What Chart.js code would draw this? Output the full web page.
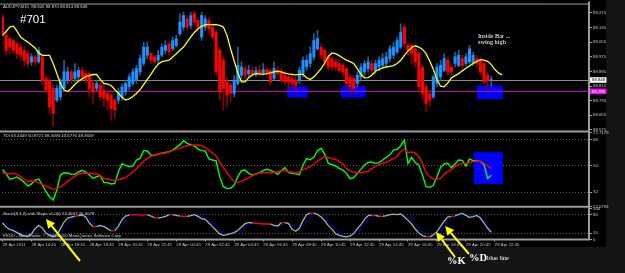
<!DOCTYPE html>
<html>
<head>
<meta charset="utf-8">
<title>AUDJPY M15 #701</title>
<script src="https://cdn.jsdelivr.net/npm/chart.js@4.4.1/dist/chart.umd.min.js"></script>
<style>
  html, body { margin: 0; padding: 0; width: 625px; height: 273px; overflow: hidden; background: #141414; }
  #terminal { position: absolute; left: 0; top: 0; width: 606px; height: 247px; background: #000; }
  canvas { position: absolute; left: 0; }
</style>
</head>
<body>
<div id="terminal"></div>
<canvas id="priceChart" width="625" height="135" style="top:0"></canvas>
<canvas id="tdiChart" width="625" height="83" style="top:128px"></canvas>
<canvas id="stochChart" width="625" height="43" style="top:204px"></canvas>
<canvas id="notes" width="625" height="273" style="top:0"></canvas>
<script>
// time axis: one label every 8 bars (2 hours of M15)
const timeLabels = ['28 Apr 2011', '28 Apr 14:45', '28 Apr 16:45', '28 Apr 18:45', '28 Apr 20:45', '28 Apr 22:45',
    '29 Apr 00:45', '29 Apr 02:45', '29 Apr 04:45', '29 Apr 06:45', '29 Apr 08:45', '29 Apr 10:45',
    '29 Apr 12:45', '29 Apr 14:45', '29 Apr 16:45', '29 Apr 18:45', '29 Apr 20:45', '29 Apr 22:45'];
const timeTickBars = [0, 8, 16, 24, 32, 40, 48, 56, 64, 72, 80, 88, 96, 104, 112, 120, 128, 136];

// AUDJPY M15 candles
const opens = [
    89.191, 89.092, 89.073, 89.064, 89.046, 89.028, 89.010, 88.992, 88.947, 88.974,
    88.947, 88.974, 88.856, 88.847, 88.802, 88.738, 88.756, 88.802, 88.847, 88.892,
    88.856, 88.865, 88.901, 88.883, 88.883, 88.829, 88.802, 88.820, 88.793, 88.774,
    88.765, 88.738, 88.738, 88.756, 88.783, 88.811, 88.829, 88.847, 88.892, 88.938,
    88.983, 88.992, 88.974, 88.956, 88.983, 89.010, 89.046, 89.019, 89.037, 89.101,
    89.137, 89.182, 89.146, 89.209, 89.173, 89.083, 89.137, 89.173, 89.137, 89.110,
    89.010, 88.956, 88.838, 88.820, 88.774, 88.829, 88.874, 88.910, 88.883, 88.901,
    88.879, 88.901, 88.887, 88.905, 88.898, 88.856, 88.901, 88.892, 88.874, 88.865,
    88.856, 88.847, 88.847, 88.883, 88.919, 88.938, 88.974, 89.019, 89.028, 89.010,
    88.974, 88.965, 88.947, 88.938, 88.928, 88.910, 88.865, 88.856, 88.829, 88.865,
    88.892, 88.910, 88.938, 88.901, 88.919, 88.928, 88.938, 88.965, 88.983, 89.001,
    89.028, 89.137, 89.037, 89.037, 89.019, 88.992, 88.919, 88.811, 88.774, 88.756,
    88.829, 88.865, 88.901, 88.956, 88.919, 88.938, 88.928, 88.965, 88.938, 88.947,
    88.938, 88.965, 88.956, 88.938, 88.874, 88.845];
const highs = [
    89.209, 89.110, 89.083, 89.073, 89.055, 89.046, 89.028, 89.010, 88.992, 88.983,
    89.028, 88.983, 88.874, 88.856, 88.820, 88.820, 88.856, 88.956, 88.919, 88.901,
    88.938, 88.919, 88.919, 88.901, 88.892, 88.847, 88.847, 88.838, 88.829, 88.793,
    88.774, 88.747, 88.802, 88.829, 88.847, 88.883, 88.910, 88.928, 88.983, 89.055,
    89.055, 89.001, 88.983, 89.010, 89.046, 89.064, 89.055, 89.083, 89.092, 89.209,
    89.218, 89.200, 89.218, 89.228, 89.191, 89.218, 89.200, 89.191, 89.155, 89.119,
    89.028, 88.974, 88.865, 88.838, 88.874, 89.028, 88.947, 88.928, 88.928, 88.919,
    88.919, 88.928, 88.938, 88.919, 88.910, 88.947, 88.919, 88.910, 88.892, 88.883,
    88.874, 88.865, 88.919, 88.974, 88.983, 89.028, 89.101, 89.119, 89.046, 89.019,
    88.983, 88.974, 88.965, 88.956, 88.938, 88.919, 88.883, 88.874, 88.892, 88.938,
    88.956, 88.974, 88.956, 88.956, 88.974, 88.992, 89.001, 89.037, 89.055, 89.083,
    89.155, 89.155, 89.046, 89.046, 89.028, 89.001, 88.928, 88.829, 88.793, 88.874,
    88.938, 88.956, 88.992, 88.974, 88.938, 89.001, 89.010, 88.983, 88.992, 89.037,
    89.001, 88.983, 88.974, 88.947, 88.890, 88.870];
const lows = [
    89.083, 88.983, 88.992, 88.992, 88.965, 88.956, 88.928, 88.919, 88.928, 88.928,
    88.938, 88.820, 88.774, 88.666, 88.593, 88.729, 88.738, 88.793, 88.829, 88.829,
    88.838, 88.847, 88.847, 88.829, 88.756, 88.720, 88.783, 88.738, 88.702, 88.684,
    88.629, 88.638, 88.720, 88.738, 88.765, 88.793, 88.820, 88.829, 88.874, 88.928,
    88.965, 88.938, 88.938, 88.938, 88.974, 88.992, 88.983, 89.010, 89.028, 89.092,
    89.119, 89.119, 89.128, 89.146, 89.110, 89.064, 89.119, 89.101, 89.073, 88.874,
    88.738, 88.684, 88.702, 88.729, 88.756, 88.820, 88.856, 88.856, 88.865, 88.868,
    88.865, 88.868, 88.874, 88.874, 88.820, 88.847, 88.865, 88.838, 88.820, 88.802,
    88.802, 88.793, 88.829, 88.865, 88.901, 88.919, 88.956, 89.010, 88.965, 88.928,
    88.901, 88.901, 88.901, 88.892, 88.865, 88.811, 88.774, 88.774, 88.811, 88.847,
    88.874, 88.892, 88.883, 88.883, 88.901, 88.910, 88.919, 88.947, 88.965, 88.992,
    89.019, 89.028, 88.983, 88.938, 88.919, 88.793, 88.738, 88.675, 88.702, 88.747,
    88.811, 88.847, 88.892, 88.874, 88.874, 88.919, 88.919, 88.910, 88.928, 88.938,
    88.928, 88.919, 88.874, 88.829, 88.793, 88.814];
const closes = [
    89.101, 89.010, 89.028, 89.010, 88.992, 88.983, 88.956, 88.938, 88.974, 88.947,
    89.010, 88.847, 88.793, 88.702, 88.666, 88.802, 88.838, 88.892, 88.892, 88.847,
    88.892, 88.901, 88.865, 88.847, 88.802, 88.783, 88.829, 88.756, 88.747, 88.738,
    88.693, 88.684, 88.783, 88.811, 88.829, 88.865, 88.892, 88.910, 88.965, 89.028,
    89.028, 88.956, 88.947, 88.983, 89.028, 89.037, 89.001, 89.064, 89.073, 89.164,
    89.200, 89.137, 89.200, 89.164, 89.137, 89.200, 89.182, 89.128, 89.083, 88.892,
    88.783, 88.802, 88.765, 88.774, 88.847, 88.928, 88.919, 88.874, 88.901, 88.879,
    88.898, 88.883, 88.905, 88.890, 88.838, 88.910, 88.883, 88.847, 88.838, 88.838,
    88.829, 88.820, 88.901, 88.956, 88.956, 88.992, 89.064, 89.073, 88.983, 88.947,
    88.919, 88.919, 88.919, 88.901, 88.892, 88.829, 88.811, 88.802, 88.874, 88.919,
    88.938, 88.947, 88.901, 88.938, 88.956, 88.965, 88.974, 89.019, 89.028, 89.064,
    89.110, 89.046, 89.010, 88.992, 88.947, 88.811, 88.774, 88.720, 88.738, 88.865,
    88.919, 88.928, 88.965, 88.892, 88.892, 88.974, 88.983, 88.928, 88.974, 89.019,
    88.983, 88.938, 88.892, 88.838, 88.843, 88.848];

// yellow moving average (shifted forward, runs past the last candle)
const maLine = [
    89.092, 89.113, 89.137, 89.142, 89.115, 89.083, 89.068, 89.055, 89.039, 89.023,
    88.996, 88.983, 88.983, 88.983, 88.938, 88.883, 88.829, 88.793, 88.785, 88.802,
    88.825, 88.841, 88.854, 88.867, 88.872, 88.878, 88.878, 88.851, 88.829, 88.825,
    88.818, 88.796, 88.776, 88.753, 88.738, 88.745, 88.758, 88.774, 88.796, 88.823,
    88.851, 88.879, 88.910, 88.934, 88.948, 88.952, 88.956, 88.974, 88.992, 89.010,
    89.028, 89.055, 89.083, 89.108, 89.128, 89.141, 89.151, 89.151, 89.151, 89.150,
    89.146, 89.137, 89.092, 89.019, 88.952, 88.887, 88.838, 88.838, 88.861, 88.876,
    88.883, 88.881, 88.879, 88.883, 88.887, 88.892, 88.896, 88.892, 88.885, 88.881,
    88.879, 88.876, 88.879, 88.879, 88.860, 88.851, 88.865, 88.887, 88.910, 88.941,
    88.977, 88.996, 88.992, 88.981, 88.968, 88.957, 88.948, 88.938, 88.910, 88.879,
    88.860, 88.861, 88.874, 88.896, 88.905, 88.914, 88.919, 88.923, 88.927, 88.938,
    88.956, 88.983, 89.006, 89.026, 89.035, 89.028, 89.015, 88.992, 88.952, 88.907,
    88.851, 88.814, 88.811, 88.832, 88.860, 88.872, 88.883, 88.898, 88.912, 88.925,
    88.938, 88.950, 88.959, 88.957, 88.950, 88.932, 88.905, 88.887, 88.876];

const priceTicks = [89.215, 89.135, 89.055, 88.975, 88.895, 88.815, 88.735, 88.655, 88.575];
const bidPrice = 88.848;
const levelPrice = 88.786;
// blue boxes: [fromBar, toBar, low, high]
const priceBoxes = [[78.6, 84.3, 88.753, 88.814], [93.5, 100.3, 88.753, 88.814], [131.1, 138.2, 88.744, 88.818]];

// TDI: green price line, red signal line
const tdiPrice = [
    47.7, 44.7, 40.9, 41.5, 42.5, 40.9, 38.8, 36.3, 37.7, 40.4,
    41.1, 37.0, 32.4, 29.0, 26.7, 33.6, 43.8, 45.4, 45.2, 44.3,
    44.3, 45.9, 47.0, 45.9, 43.8, 41.5, 42.7, 43.4, 38.6, 38.6,
    37.7, 38.1, 46.1, 51.4, 50.4, 49.5, 50.0, 54.1, 55.2, 60.5,
    60.3, 57.5, 57.1, 58.2, 58.7, 59.3, 59.8, 60.9, 62.8, 64.4,
    67.3, 65.5, 64.4, 63.7, 61.6, 60.5, 60.3, 54.8, 54.1, 53.6,
    42.7, 35.8, 34.7, 34.7, 37.0, 42.7, 46.8, 47.2, 45.0, 43.8,
    44.5, 45.4, 46.8, 47.7, 47.0, 45.9, 44.3, 46.8, 48.9, 45.4,
    45.0, 44.7, 44.0, 50.7, 55.0, 54.3, 55.9, 60.5, 62.1, 58.2,
    51.8, 50.9, 50.0, 48.4, 47.2, 45.0, 41.3, 42.0, 45.0, 47.7,
    50.7, 52.5, 52.7, 51.8, 52.3, 54.1, 55.9, 57.7, 60.9, 61.4,
    63.7, 67.8, 51.8, 55.9, 52.3, 50.7, 43.8, 35.8, 35.4, 36.8,
    42.7, 49.1, 51.4, 51.8, 48.9, 51.4, 54.1, 53.9, 50.0, 54.8,
    53.6, 53.6, 53.0, 50.9, 41.5, 43.7];
const tdiSignal = [
    45.4, 44.7, 44.7, 45.0, 44.3, 42.7, 40.9, 39.3, 39.7, 39.5,
    38.4, 37.4, 36.3, 35.2, 34.0, 34.5, 35.8, 37.4, 39.5, 41.3,
    43.1, 44.5, 45.0, 45.0, 45.0, 44.7, 44.5, 43.6, 41.5, 40.9,
    40.4, 40.2, 40.6, 41.3, 42.2, 43.8, 46.1, 48.2, 50.9, 53.4,
    55.2, 56.6, 57.5, 58.2, 58.7, 58.9, 59.6, 60.7, 61.4, 62.1,
    63.2, 63.9, 64.1, 64.4, 64.4, 63.9, 62.3, 60.7, 58.9, 56.8,
    52.7, 49.1, 45.4, 42.2, 39.3, 38.8, 39.5, 40.9, 42.0, 43.4,
    44.5, 45.2, 45.4, 45.4, 45.4, 45.7, 46.1, 46.8, 47.0, 46.1,
    45.7, 45.2, 46.1, 47.5, 48.4, 49.5, 51.4, 53.2, 55.0, 56.4,
    55.7, 55.0, 54.6, 53.0, 51.4, 48.2, 46.6, 45.7, 45.4, 45.4,
    45.9, 46.3, 48.2, 49.8, 51.1, 51.8, 52.7, 53.9, 55.0, 56.8,
    59.8, 61.6, 59.3, 59.6, 58.9, 56.4, 51.6, 45.4, 42.7, 41.1,
    41.1, 41.5, 44.3, 46.1, 47.7, 49.8, 51.1, 51.8, 51.8, 52.3,
    53.0, 53.4, 53.0, 51.8, 50.2, 48.4];
const tdiTicks = [72.7178, 68, 50, 32, 22.0794];
const tdiLevels = [68, 50, 32];
const tdiBoxes = [[130.2, 138.2, 37.7, 59.4]];

// Stoch(8,3,3) with slope
const stochK = [
    53.2, 40.3, 32.8, 28.6, 22.1, 16.8, 11.4, 9.3, 17.9, 35.0,
    45.7, 37.1, 21.1, 14.6, 8.2, 13.6, 35.0, 56.4, 69.3, 72.5,
    75.7, 76.8, 78.9, 72.5, 53.2, 41.4, 41.4, 45.7, 41.4, 35.0,
    27.5, 28.6, 42.5, 63.9, 75.7, 78.9, 80.0, 80.0, 78.9, 78.9,
    80.0, 75.7, 70.3, 69.3, 71.4, 74.6, 80.0, 80.0, 77.8, 75.7,
    74.6, 74.6, 76.8, 80.0, 74.6, 67.1, 65.0, 53.2, 41.4, 29.6,
    17.9, 13.6, 15.7, 18.9, 22.1, 29.6, 40.3, 51.1, 55.3, 53.2,
    52.1, 51.1, 50.0, 50.0, 50.0, 45.7, 43.6, 54.3, 54.3, 51.1,
    32.8, 26.4, 37.1, 60.7, 80.0, 85.3, 85.3, 81.0, 72.5, 60.7,
    44.6, 32.8, 18.9, 13.6, 10.4, 8.2, 11.4, 18.9, 35.0, 47.9,
    65.0, 76.8, 78.9, 77.8, 74.6, 74.6, 76.8, 80.0, 82.1, 80.0,
    82.1, 73.5, 61.8, 50.0, 33.9, 21.1, 12.5, 9.3, 9.3, 14.6,
    25.3, 42.5, 59.6, 72.5, 74.6, 75.7, 81.0, 84.3, 77.8, 71.4,
    73.5, 77.8, 69.3, 53.2, 36.1, 23.4];
const stochD = [
    58.0, 50.0, 42.0, 34.0, 28.0, 22.5, 16.8, 12.5, 12.9, 20.7,
    32.9, 39.3, 34.6, 24.3, 14.6, 12.1, 18.9, 35.0, 53.6, 66.1,
    72.5, 75.0, 77.1, 76.1, 68.2, 55.7, 45.3, 42.8, 42.8, 40.7,
    34.6, 30.4, 32.9, 45.0, 60.7, 72.8, 78.2, 79.6, 79.6, 79.3,
    79.3, 78.2, 75.3, 71.8, 70.3, 71.8, 75.3, 78.2, 79.3, 77.8,
    76.0, 75.0, 75.3, 77.1, 77.1, 73.9, 68.9, 61.8, 53.2, 41.4,
    29.6, 20.4, 15.7, 16.1, 18.9, 23.5, 30.7, 40.3, 48.9, 53.2,
    53.5, 52.1, 51.1, 50.4, 50.0, 48.6, 46.4, 47.9, 50.7, 53.2,
    46.1, 36.8, 32.1, 41.4, 59.3, 75.3, 83.5, 83.9, 79.6, 71.4,
    59.3, 46.0, 32.1, 21.8, 14.3, 10.7, 10.0, 12.8, 21.8, 33.9,
    49.3, 63.2, 73.6, 77.8, 77.1, 75.7, 75.3, 77.1, 79.6, 80.7,
    81.4, 78.5, 72.5, 61.8, 48.6, 35.0, 22.5, 14.3, 10.4, 11.1,
    16.4, 27.5, 42.5, 58.2, 68.9, 74.3, 77.1, 80.3, 81.0, 77.8,
    74.2, 74.2, 73.5, 62.0, 44.0, 26.6];
const stochTicks = [100, 80, 20, 0];
const stochLevels = [80, 20];

// styles
const FONT = '"Liberation Sans", Arial, sans-serif';
const tickFont = { family: FONT, size: 4.3 };
const frameColor = '#9c9c9c';
const labelColor = '#c8c8c8';

// outline of each sub-window
const frame = {
    id: 'frame',
    afterDraw(chart, args, opts) {
        const { ctx, chartArea: a } = chart;
        ctx.save();
        ctx.strokeStyle = frameColor;
        ctx.lineWidth = 2;
        ctx.beginPath();
        ctx.moveTo(0, a.bottom);
        ctx.lineTo(a.right, a.bottom);
        ctx.moveTo(a.right, a.top - 2);
        ctx.lineTo(a.right, a.bottom + 1);
        ctx.stroke();
        if (opts.top) {
            ctx.lineWidth = 1;
            ctx.beginPath();
            ctx.moveTo(0, a.top + 0.5);
            ctx.lineTo(a.right, a.top + 0.5);
            ctx.stroke();
        }
        ctx.restore();
    }
};

// blue rectangles, drawn under the candles / lines
const zones = {
    id: 'zones',
    beforeDatasetsDraw(chart, args, opts) {
        const { ctx, chartArea: a, scales: { x, y } } = chart;
        ctx.save();
        ctx.beginPath();
        ctx.rect(a.left, a.top, a.width, a.height);
        ctx.clip();
        ctx.fillStyle = '#0000ff';
        opts.boxes.forEach(([b0, b1, lo, hi]) => {
            const x0 = x.getPixelForValue(b0);
            const x1 = x.getPixelForValue(b1);
            const y0 = y.getPixelForValue(hi);
            const y1 = y.getPixelForValue(lo);
            ctx.fillRect(x0, y0, x1 - x0, y1 - y0);
        });
        ctx.restore();
    }
};

// bid line + magenta level, with their tags on the price axis
const priceLines = {
    id: 'priceLines',
    beforeDatasetsDraw(chart, args, opts) {
        const { ctx, chartArea: a, scales: { y } } = chart;
        ctx.save();
        ctx.lineWidth = 1;
        opts.lines.forEach(l => {
            const py = Math.round(y.getPixelForValue(l.value)) + 0.5;
            ctx.strokeStyle = l.line;
            ctx.beginPath();
            ctx.moveTo(0, py);
            ctx.lineTo(a.right, py);
            ctx.stroke();
        });
        ctx.restore();
    },
    afterDraw(chart, args, opts) {
        const { ctx, chartArea: a, scales: { y } } = chart;
        ctx.save();
        ctx.font = `4.3px ${FONT}`;
        ctx.textBaseline = 'middle';
        opts.lines.forEach(l => {
            const py = y.getPixelForValue(l.value);
            ctx.fillStyle = l.tag;
            ctx.fillRect(a.right + 1, py - 2.8, 16.5, 5.6);
            ctx.fillStyle = l.ink;
            ctx.fillText(l.value.toFixed(3), a.right + 3, py);
        });
        ctx.restore();
    }
};

// indicator name / values in the top-left corner
const caption = {
    id: 'caption',
    afterDraw(chart, args, opts) {
        const { ctx, chartArea: a } = chart;
        ctx.save();
        ctx.font = `4.3px ${FONT}`;
        ctx.fillStyle = '#d4d4d4';
        ctx.textBaseline = 'middle';
        opts.lines.forEach(([text, dy]) => ctx.fillText(text, a.left + 1, a.top + dy));
        ctx.restore();
    }
};

function timeAxis(show) {
    return {
        type: 'linear', min: -0.14, max: 162, offset: false, display: show,
        afterBuildTicks: s => { s.ticks = timeTickBars.map(v => ({ value: v })); },
        afterFit: s => { s.height = show ? 7.5 : 0; },
        grid: { offset: false, drawOnChartArea: false, tickLength: 2, tickColor: frameColor },
        border: { display: false },
        ticks: {
            autoSkip: false, maxRotation: 0, align: 'start', padding: 0.5,
            color: labelColor, font: tickFont, callback: (v, i) => timeLabels[i]
        }
    };
}

function valueAxis(min, max, ticks, format, levels) {
    return {
        type: 'linear', position: 'right', min, max,
        afterBuildTicks: s => { s.ticks = ticks.map(v => ({ value: v })); },
        afterFit: s => { s.width = 36; },
        grid: {
            drawOnChartArea: levels.length > 0,
            color: c => (c.tick && levels.includes(c.tick.value)) ? '#5a5a5a' : 'rgba(0,0,0,0)',
            tickColor: frameColor, tickLength: 3
        },
        border: { display: false, dash: [1, 2] },
        ticks: { autoSkip: false, padding: 1, color: labelColor, font: tickFont, callback: format }
    };
}

function baseOptions(padding, scales, plugins) {
    return {
        responsive: false, animation: false, events: [],
        layout: { padding },
        scales,
        plugins: Object.assign({ legend: { display: false }, tooltip: { enabled: false } }, plugins)
    };
}

const points = arr => arr.map((v, i) => ({ x: i, y: v }));
const isBull = i => closes[i] >= opens[i];

// main window: candles + MA
new Chart(document.getElementById('priceChart'), {
    type: 'bar',
    data: {
        datasets: [
            { type: 'line', data: points(maLine), borderColor: '#ffff00', borderWidth: 1.3, pointRadius: 0, order: 0 },
            {
                data: opens.map((o, i) => ({ x: i, y: [o, closes[i]] })),
                backgroundColor: opens.map((_, i) => isBull(i) ? '#1e90ff' : '#ff0000'),
                barThickness: 2.4, minBarLength: 1, grouped: false, order: 1
            },
            {
                data: lows.map((l, i) => ({ x: i, y: [l, highs[i]] })),
                backgroundColor: lows.map((_, i) => isBull(i) ? '#1f62a0' : '#8b0000'),
                barThickness: 1, grouped: false, order: 2
            }
        ]
    },
    options: baseOptions({ left: 2, top: 3, bottom: 3.5, right: 0 }, {
        x: timeAxis(false),
        y: valueAxis(88.567, 89.2656, priceTicks, v => v.toFixed(3), [])
    }, {
        frame: { top: true },
        zones: { boxes: priceBoxes },
        priceLines: {
            lines: [
                { value: bidPrice, line: '#8a8a8a', tag: '#ffffff', ink: '#000000' },
                { value: levelPrice, line: '#c400c4', tag: '#ff00ff', ink: '#ffffff' }
            ]
        },
        caption: { lines: [['AUDJPY,M15  88.845 88.870 88.814 88.848', 3]] }
    }),
    plugins: [frame, zones, priceLines, caption]
});

// TDI window
new Chart(document.getElementById('tdiChart'), {
    type: 'line',
    data: {
        datasets: [
            { data: points(tdiSignal), borderColor: '#ff0000', borderWidth: 1.4, pointRadius: 0, order: 0 },
            { data: points(tdiPrice), borderColor: '#00ff00', borderWidth: 1.4, pointRadius: 0, order: 1 }
        ]
    },
    options: baseOptions({ left: 2, top: 4.8, bottom: 4.2, right: 0 }, {
        x: timeAxis(false),
        y: valueAxis(22.0794, 72.7178, tdiTicks, v => String(v), tdiLevels)
    }, {
        frame: {},
        zones: { boxes: tdiBoxes },
        caption: { lines: [['TDI 63.4349 50.8721 38.3093 43.6776 48.3609', 3.2]] }
    }),
    plugins: [frame, zones, caption]
});

// Stochastic window (+ time axis)
new Chart(document.getElementById('stochChart'), {
    type: 'line',
    data: {
        datasets: [
            {
                data: points(stochK), borderWidth: 1.3, pointRadius: 0, order: 0, borderColor: '#98b890',
                segment: { borderColor: c => Math.abs(c.p1.parsed.y - c.p0.parsed.y) < 1.5 ? '#ff0000' : '#98b890' }
            },
            { data: points(stochD), borderColor: '#00008c', borderWidth: 1.2, pointRadius: 0, order: 1 }
        ]
    },
    options: baseOptions({ left: 2, top: 4.5, bottom: 0, right: 0 }, {
        x: timeAxis(true),
        y: valueAxis(0, 100, stochTicks, v => String(v), stochLevels)
    }, {
        frame: {},
        caption: {
            lines: [
                ['Stoch(8,3,3) with Slope v1.0(t) 23.3607 26.6078', 5.5],
                ['FXDD - MetaTrader, \u00a9 2001-2010 MetaQuotes Software Corp.', 27.5]
            ]
        }
    }),
    plugins: [frame, caption]
});

// hand-drawn notes on the screenshot
const notes = document.getElementById('notes').getContext('2d');

function drawArrow(ctx, x0, y0, x1, y1) {
    const ang = Math.atan2(y1 - y0, x1 - x0);
    const len = 9, half = 4.5;
    const bx = x1 - len * Math.cos(ang);
    const by = y1 - len * Math.sin(ang);
    ctx.beginPath();
    ctx.moveTo(x0, y0);
    ctx.lineTo(bx, by);
    ctx.stroke();
    ctx.beginPath();
    ctx.moveTo(x1, y1);
    ctx.lineTo(bx + half * Math.sin(ang), by - half * Math.cos(ang));
    ctx.lineTo(bx - half * Math.sin(ang), by + half * Math.cos(ang));
    ctx.closePath();
    ctx.fill();
}

notes.fillStyle = '#ffffff';
notes.font = `11.5px ${FONT}`;
notes.fillText('#701', 20, 23.3);
notes.font = '6.3px "Liberation Serif", serif';
notes.fillText('Inside Bar ...', 478, 37.5);
notes.fillText('swing high', 478, 43.8);
notes.font = 'bold 10.5px "Liberation Serif", serif';
notes.fillText('%K', 447, 264);
notes.fillText('%D', 469, 261);
notes.font = '6.3px "Liberation Serif", serif';
notes.fillText('blue line', 487, 259.5);

notes.strokeStyle = '#ffff00';
notes.fillStyle = '#ffff00';
notes.lineWidth = 2;
drawArrow(notes, 80, 261, 46, 219);
drawArrow(notes, 455, 257, 436, 232);
drawArrow(notes, 469, 254, 445, 226);
</script>
</body>
</html>
